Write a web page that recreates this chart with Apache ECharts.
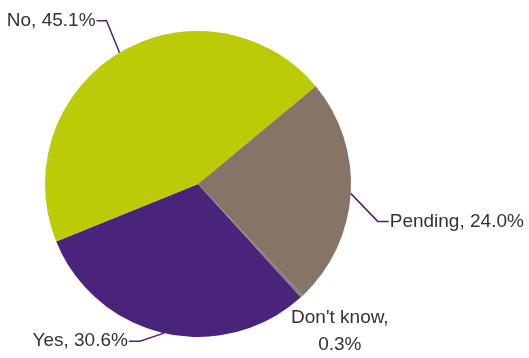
<!DOCTYPE html>
<html>
<head>
<meta charset="utf-8">
<script src="https://cdn.jsdelivr.net/npm/echarts@6/dist/echarts.min.js"></script>
<style>
html,body{margin:0;padding:0;background:#fff;}
#chart{width:529px;height:358px;}
</style>
</head>
<body>
<div id="chart"></div>
<script>
// Data
var categories = ['Yes', 'No', 'Pending', "Don't know"];
var values = [30.6, 45.1, 24.0, 0.3];
var colors = ['#4A237A', '#BBCB06', '#867566', '#7E7E84'];

// Layout (style)
var CX = 198, CY = 184, R = 153, START = 312.2;
var labelStyle = {
  'No':        { elbow: [-13, -32], tail: -10, gap: -1, line: true },
  'Pending':   { elbow: [27, 28],   tail: 11,  gap: 1,  line: true },
  'Yes':       { elbow: [-24, 8],   tail: -11, gap: -1, line: true },
  "Don't know":{ offset: [38, 35],  line: false }
};

var total = values.reduce(function (a, b) { return a + b; }, 0);
function anchorOf(idx) {
  var before = 0;
  for (var i = 0; i < idx; i++) before += values[i];
  var mid = START - (before + values[idx] / 2) / total * 360;
  var a = mid * Math.PI / 180;
  return [CX + R * Math.cos(a), CY - R * Math.sin(a)];
}

var chart = echarts.init(document.getElementById('chart'), null, { renderer: 'canvas' });
chart.setOption({
  animation: false,
  backgroundColor: '#fff',
  series: [{
    type: 'pie',
    center: [CX, CY],
    radius: R,
    startAngle: START,
    clockwise: true,
    avoidLabelOverlap: false,
    itemStyle: { borderWidth: 0 },
    label: {
      show: true,
      formatter: function (p) {
        var v = p.value.toFixed(1) + '%';
        return p.name === "Don't know" ? p.name + ',\n' + v : p.name + ', ' + v;
      },
      fontFamily: '"Liberation Sans", Arial, sans-serif',
      fontSize: 19,
      color: '#333333',
      lineHeight: 27
    },
    labelLine: { show: true, lineStyle: { color: '#4A237A', width: 1.5 } },
    labelLayout: function (params) {
      var idx = params.dataIndex;
      var name = categories[idx];
      var st = labelStyle[name];
      var A = anchorOf(idx);
      if (!st.line) {
        return { x: A[0] + st.offset[0], y: A[1] + st.offset[1], align: 'center', verticalAlign: 'middle' };
      }
      var E = [A[0] + st.elbow[0], A[1] + st.elbow[1]];
      var T = [E[0] + st.tail, E[1]];
      return {
        x: T[0] + st.gap,
        y: T[1],
        align: st.tail < 0 ? 'right' : 'left',
        verticalAlign: 'middle',
        labelLinePoints: [A, E, T]
      };
    },
    data: categories.map(function (c, i) {
      return {
        name: c, value: values[i],
        itemStyle: { color: colors[i] },
        labelLine: { show: labelStyle[c].line }
      };
    })
  }]
});
</script>
</body>
</html>
